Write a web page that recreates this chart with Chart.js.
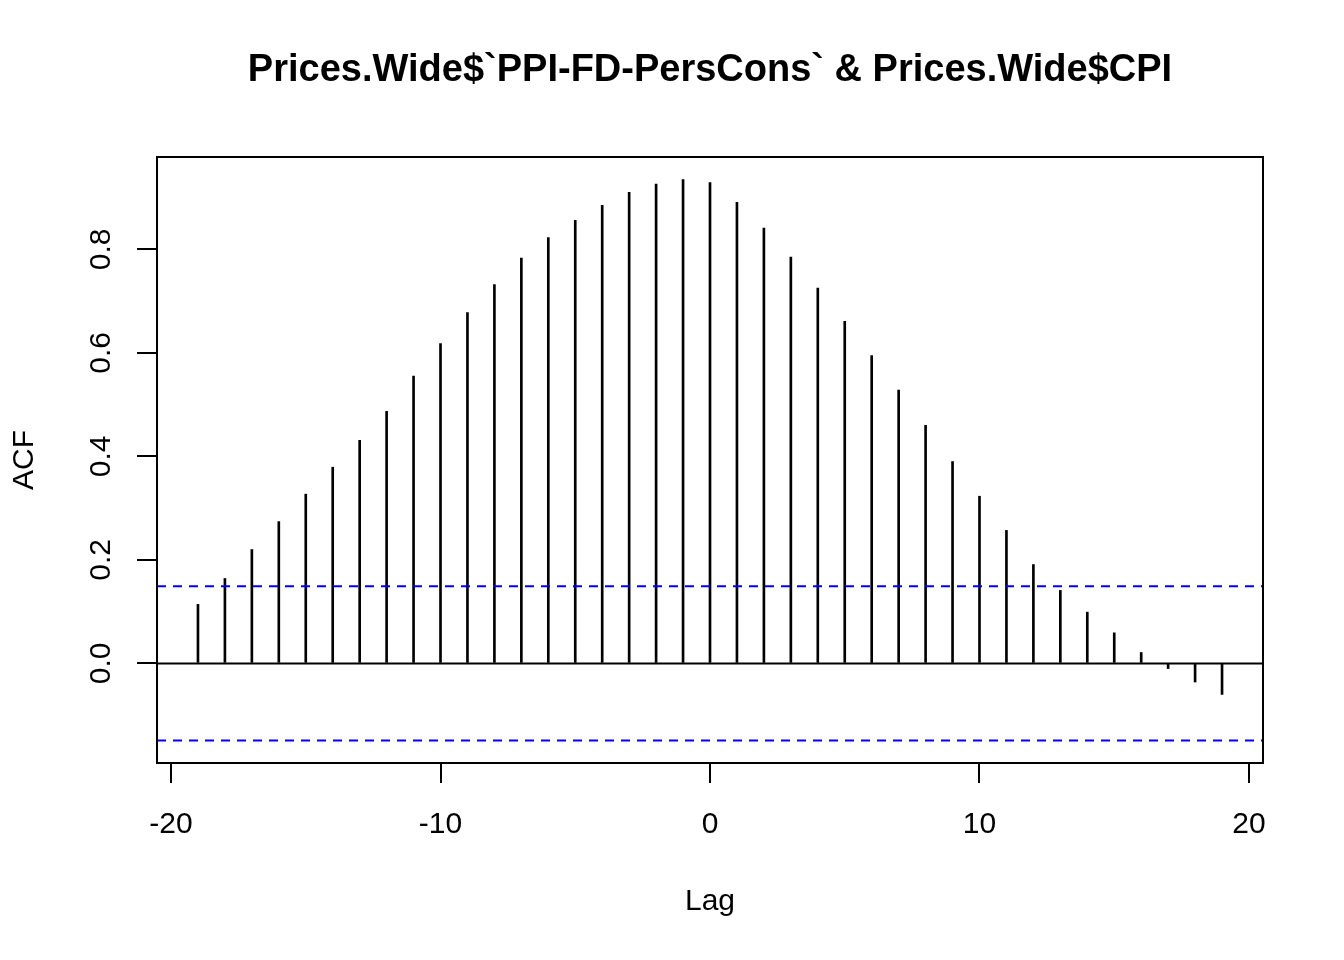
<!DOCTYPE html>
<html>
<head>
<meta charset="utf-8">
<title>CCF plot</title>
<script src="https://cdn.jsdelivr.net/npm/chart.js@4.4.1/dist/chart.umd.min.js"></script>
<style>
    html, body { margin: 0; padding: 0; background: #ffffff; }
    #ccfChart { display: block; }
</style>
</head>
<body>
<canvas id="ccfChart" width="1344" height="960"></canvas>
<script>
// Cross-correlation values
const lags = [-19, -18, -17, -16, -15, -14, -13, -12, -11, -10,
    -9, -8, -7, -6, -5, -4, -3, -2, -1, 0,
    1, 2, 3, 4, 5, 6, 7, 8, 9, 10,
    11, 12, 13, 14, 15, 16, 17, 18, 19];
const acfValues = [0.114, 0.164, 0.220, 0.274, 0.327, 0.379, 0.431, 0.487, 0.555, 0.618,
    0.678, 0.732, 0.783, 0.823, 0.856, 0.885, 0.910, 0.926, 0.935, 0.929,
    0.891, 0.841, 0.785, 0.725, 0.661, 0.595, 0.528, 0.460, 0.390, 0.323,
    0.257, 0.191, 0.141, 0.099, 0.059, 0.021, -0.010, -0.036, -0.060];
const confLimit = 0.149;

const xTicks = [-20, -10, 0, 10, 20];
const yTicks = [0.0, 0.2, 0.4, 0.6, 0.8];

// R style axis limits (data range + 4%)
const xRange = [-20.52, 20.52];
const yRange = [-0.1925, 0.9785];

const chartTitle = 'Prices.Wide$`PPI-FD-PersCons` & Prices.Wide$CPI';

Chart.defaults.font.family = '"Liberation Sans", Arial, sans-serif';
Chart.defaults.font.size = 30;
Chart.defaults.font.lineHeight = 1;
Chart.defaults.color = '#000000';

// box around the plot region, like R's box()
const plotBox = {
    id: 'plotBox',
    afterDatasetsDraw(chart) {
        const { ctx, chartArea } = chart;
        ctx.save();
        ctx.strokeStyle = '#000000';
        ctx.lineWidth = 2;
        ctx.strokeRect(chartArea.left, chartArea.top,
            chartArea.right - chartArea.left, chartArea.bottom - chartArea.top);
        ctx.restore();
    }
};

function hLine(y) {
    return [{ x: xRange[0], y: y }, { x: xRange[1], y: y }];
}

const ctx = document.getElementById('ccfChart');

new Chart(ctx, {
    type: 'bar',
    data: {
        datasets: [{
            type: 'line',
            data: hLine(confLimit),
            borderColor: '#0000ff',
            borderWidth: 2,
            borderDash: [9, 7],
            pointRadius: 0,
            order: 0
        }, {
            type: 'line',
            data: hLine(-confLimit),
            borderColor: '#0000ff',
            borderWidth: 2,
            borderDash: [9, 7],
            pointRadius: 0,
            order: 0
        }, {
            type: 'line',
            data: hLine(0),
            borderColor: '#000000',
            borderWidth: 2,
            pointRadius: 0,
            order: 1
        }, {
            label: 'ACF',
            data: lags.map((lag, i) => ({ x: lag, y: acfValues[i] })),
            backgroundColor: '#000000',
            borderWidth: 0,
            barThickness: 2,
            order: 2
        }]
    },
    options: {
        responsive: false,
        devicePixelRatio: 1,
        animation: false,
        layout: {
            padding: { left: 0, right: 81, top: 0, bottom: 0 }
        },
        plugins: {
            legend: { display: false },
            tooltip: { enabled: false },
            title: {
                display: true,
                fullSize: false,
                text: chartTitle,
                font: { size: 38, weight: 'bold', lineHeight: 1 },
                color: '#000000',
                padding: { top: 52, bottom: 67 }
            }
        },
        scales: {
            x: {
                type: 'linear',
                min: xRange[0],
                max: xRange[1],
                offset: false,
                afterBuildTicks: (scale) => {
                    scale.ticks = xTicks.map(v => ({ value: v }));
                },
                afterFit: (scale) => { scale.height = 197; },
                grid: {
                    offset: false,
                    drawOnChartArea: false,
                    drawTicks: true,
                    tickLength: 20,
                    color: '#000000',
                    lineWidth: 2
                },
                border: { display: false },
                ticks: {
                    padding: 27,
                    autoSkip: false,
                    maxRotation: 0,
                    callback: (value) => value.toFixed(0)
                },
                title: {
                    display: true,
                    text: 'Lag',
                    padding: { top: 0, bottom: 43 }
                }
            },
            y: {
                type: 'linear',
                min: yRange[0],
                max: yRange[1],
                afterBuildTicks: (scale) => {
                    scale.ticks = yTicks.map(v => ({ value: v }));
                },
                afterFit: (scale) => { scale.width = 157; },
                grid: {
                    drawOnChartArea: false,
                    drawTicks: true,
                    tickLength: 20,
                    color: '#000000',
                    lineWidth: 2
                },
                border: { display: false },
                ticks: {
                    padding: 14,
                    autoSkip: false,
                    minRotation: 90,
                    maxRotation: 90,
                    crossAlign: 'center',
                    callback: (value) => value.toFixed(1)
                },
                title: {
                    display: true,
                    text: 'ACF',
                    padding: { top: 10, bottom: 0 }
                }
            }
        }
    },
    plugins: [plotBox]
});
</script>
</body>
</html>
